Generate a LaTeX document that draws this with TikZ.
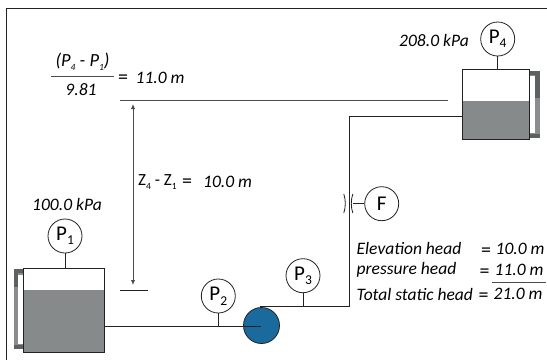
\documentclass[tikz,border=0pt]{standalone}
\usepackage{fontspec}
\setmainfont{Carlito}
\usetikzlibrary{arrows.meta}
\definecolor{water}{HTML}{868A8A}
\definecolor{pumpblue}{HTML}{1A6A9E}
\definecolor{line}{HTML}{222222}
\definecolor{bandd}{HTML}{5E6161}
\definecolor{bandl}{HTML}{8A8D8D}
\tikzset{
  gauge/.style={circle,draw=line,line width=0.8pt,fill=white,minimum size=34pt,inner sep=0pt,font=\fontsize{21}{21}\selectfont},
  pipe/.style={draw=line,line width=1pt},
  stem/.style={draw=line,line width=0.8pt},
  level/.style={draw=black!70,line width=1pt},
  tank/.style={draw=line,line width=0.9pt,minimum width=0pt,inner sep=0pt},
  lbl/.style={inner sep=0pt,font=\fontsize{17.5}{17.5}\selectfont\itshape},
  up/.style={inner sep=0pt,font=\fontsize{17}{17}\selectfont},
  eqs/.style={inner sep=0pt,font=\fontsize{20}{20}\selectfont},
}
\newcommand{\Sb}[1]{\raisebox{-0.4ex}{\fontsize{9.5}{9.5}\selectfont #1}}
\newcommand{\Gb}[1]{\raisebox{-0.45ex}{\fontsize{13.5}{13.5}\selectfont #1}}
\begin{document}
\begin{tikzpicture}[x=1pt,y=-1pt]
\useasboundingbox (0,0) rectangle (547,360);
\fill[white] (0,0) rectangle (547,360);
% frame
\draw[draw=line,line width=0.9pt] (547,8) -- (6.5,8) -- (6.5,360);
% tank 1 with sight glass
\fill[bandl] (13.5,269) rectangle (22.5,348.5);
\fill[bandd] (13.5,269) rectangle (18,287);
\fill[bandd] (13.5,269) rectangle (22.5,273);
\fill[bandd] (13.5,345) rectangle (22.5,348.5);
\fill[white] (18,274.5) rectangle (22.5,344);
\fill[water] (22.5,290) rectangle (104,352);
\node[tank,anchor=north west,minimum width=81.5pt,minimum height=84pt] (t1) at (22.5,268) {};
% tank 4 with sight glass
\fill[bandl] (529,71) rectangle (539.5,137.5);
\fill[bandd] (534.5,71) rectangle (539.5,98);
\fill[bandd] (529,71) rectangle (539.5,75);
\fill[bandd] (529,133.5) rectangle (539.5,137.5);
\fill[white] (529,76) rectangle (534.5,133);
\fill[water] (462.3,100.7) rectangle (529.3,138.7);
\node[tank,anchor=north west,minimum width=67pt,minimum height=69.4pt] (t4) at (462.3,69.3) {};
% pump
\node[circle,draw=line,line width=0.8pt,fill=pumpblue,minimum size=36pt,inner sep=0pt] (pump) at (261.5,325.5) {};
% gauges
\node[gauge] (p1) at (65,236) {P\Gb{1}};
\node[gauge] (p2) at (218.3,296) {P\Gb{2}};
\node[gauge] (p3) at (303,275.7) {P\Gb{3}};
\node[gauge] (p4) at (497.7,39) {P\Gb{4}};
\node[gauge] (f) at (381.7,203.7) {F};
% pipes
\coordinate (j2) at (p2 |- 0,326);
\coordinate (j3) at (p3 |- 0,306.5);
\coordinate (pc) at (260.5,326);
\coordinate (pt) at (259.5,306.5);
\coordinate (cor) at (349.5,306.5);
\coordinate (cot) at (349.5,116.7);
\draw[pipe] (t1.east |- pc) -- (pc);
\draw[pipe] (pt) -- (cor) -- (cot) -- (t4.west |- cot);
\draw[stem] (p1.south) -- (t1.north -| p1);
\draw[stem] (p2.south) -- (j2);
\draw[stem] (p3.south) -- (j3);
\draw[stem] (p4.south) -- (t4.north -| p4);
% flow element
\coordinate (fa) at (352.5,203.7);
\draw[stem] (f.west) -- (fa);
\draw[stem] (352.8,194) .. controls (350.8,200) and (350.8,207) .. (352.8,213);
\draw[stem] (343.8,194) .. controls (345.8,200) and (345.8,207) .. (343.8,213);
% levels
\coordinate (l4a) at (120,100);
\coordinate (l4b) at (448,100);
\coordinate (l1a) at (120,290);
\coordinate (l1b) at (148,290);
\coordinate (a1) at (133,285);
\coordinate (a2) at (133,104);
\draw[level] (l4a) -- (l4b);
\draw[draw=line,line width=0.9pt] (l1a) -- (l1b);
\draw[{Latex[length=5pt,width=4.5pt]}-{Latex[length=5pt,width=4.5pt]},draw=black!70,line width=1pt] (a1) -- (a2);
% texts
\node[lbl] (t100) at (67,204.5) {100.0 kPa};
\node[lbl] (t208) at (434,40) {208.0 kPa};
\node[lbl,anchor=base,font=\fontsize{18.5}{18.5}\selectfont\itshape] (num) at (82.5,66.5) {(P\Sb{4} - P\Sb{1})};
\draw[draw=black!70,line width=1pt] (51,76) -- (114,76);
\node[lbl] (den) at (81,89.5) {9.81};
\node[eqs,anchor=west] (eq) at (118,79.5) {=};
\node[lbl,anchor=west] (eleven) at (135.5,77.5) {11.0 m};
\node[up,anchor=west] (zz) at (138,182) {Z\Sb{4} - Z\Sb{1}};
\node[eqs,anchor=west] (eq2) at (182,183.5) {=};
\node[lbl,anchor=west] (ten) at (203,181.5) {10.0 m};
\node[lbl,anchor=west] (e1) at (356.5,248.5) {Elevation head};
\node[lbl,anchor=west] (e2) at (356.5,270) {pressure head};
\node[lbl,anchor=west] (e3) at (356.5,294) {Total static head};
\node[eqs,anchor=west] at (481,252) {=};
\node[eqs,anchor=west] at (479.5,273) {=};
\node[eqs,anchor=west] at (478.5,297) {=};
\node[lbl,anchor=west] (v1) at (495.5,248.5) {10.0 m};
\node[lbl,anchor=west] (v2) at (494.5,270) {11.0 m};
\node[lbl,anchor=west] (v3) at (493.5,294) {21.0 m};
\draw[draw=black!70,line width=1pt] (492,282) -- (546,282);
\end{tikzpicture}
\end{document}
